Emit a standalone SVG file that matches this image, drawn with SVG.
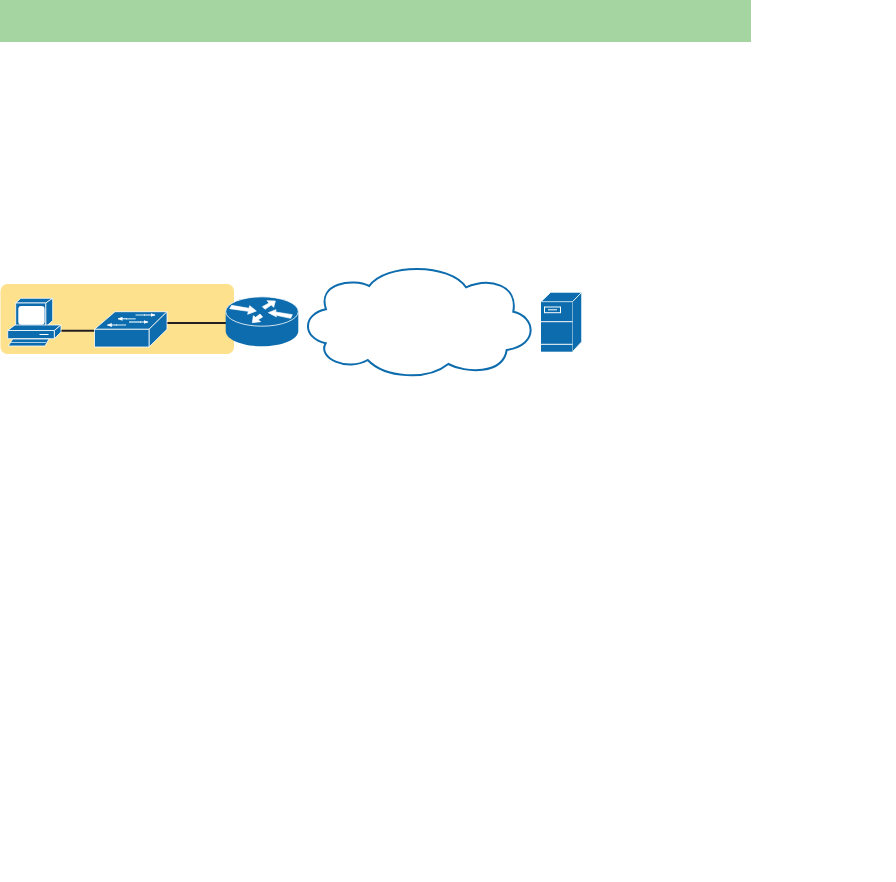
<svg xmlns="http://www.w3.org/2000/svg" width="896" height="882" viewBox="0 0 896 882">
<style>
.b{fill:#0d6cad;stroke:#fff;stroke-width:.8;stroke-linejoin:round}
.f{fill:#0d6cad}
.w{stroke:#fff;fill:none;stroke-width:1}
.lt{stroke:#a9cfe6;fill:none;stroke-width:1}
.link{stroke:#231f20;stroke-width:2;fill:none}
.ra{fill:#fff;stroke:#fff;stroke-width:2;stroke-linejoin:round}
.sa{stroke:#fff;stroke-width:1;fill:none;marker-end:url(#sh)}
.st{fill:#8fc0de}
</style>
<defs>
<marker id="sh" markerUnits="userSpaceOnUse" markerWidth="5" markerHeight="4" refX="4.5" refY="2" orient="auto"><path d="M0 0L5 2L0 4Z" fill="#fff"/></marker>
</defs>
<rect id="banner" x="0" y="0" width="751" height="42" fill="#a5d6a1"/>
<rect id="zone" x="0.5" y="284" width="233.5" height="70" rx="7" fill="#fde18d"/>
<g id="connectors">
<line class="link" x1="60" y1="330.7" x2="95" y2="330.7"/>
<line class="link" x1="166" y1="323" x2="227" y2="323"/>
</g>
<g id="pc">
<path class="b" d="M15.7 303L20.7 298.3H52.7L45.7 303Z"/>
<path class="b" d="M45.7 303L52.7 298.3V320.5L45.7 327Z"/>
<rect class="b" x="15.7" y="303" width="30" height="24"/>
<rect x="18.3" y="306" width="26.3" height="18.7" rx="3" fill="#fff"/>
<path class="b" d="M7.7 330.5L15 325H61L54.3 330.5Z"/>
<path class="b" d="M54.3 330.5L61 325V332L54.3 338.7Z"/>
<rect class="b" x="7.7" y="330.5" width="46.6" height="8.2"/>
<line class="w" x1="39.5" y1="334.5" x2="48.5" y2="334.5"/>
<path class="b" d="M8.3 346L12.7 339H49L45 346Z"/>
<line class="lt" x1="11" y1="342.5" x2="46" y2="342.5"/>
</g>
<g id="switch">
<path class="b" d="M94.5 329.3L115 311.7H167L149 329.3Z"/>
<path class="b" d="M149 329.3L167 311.7V329.3L149 347Z"/>
<rect class="b" x="94.5" y="329.3" width="54.5" height="17.7"/>
<path class="st" d="M135.5 314.2H145V315.8H135.5Z"/>
<path class="st" d="M126 318H135.7V319.6H126Z"/>
<path class="st" d="M129 321H141V323H129Z"/>
<path class="st" d="M116 324.2H126V325.8H116Z"/>
<line class="sa" x1="144" y1="315" x2="155" y2="315"/>
<line class="sa" x1="127" y1="318.8" x2="118" y2="318.8"/>
<line class="sa" x1="140" y1="322" x2="148" y2="322"/>
<line class="sa" x1="117" y1="325" x2="107.3" y2="325"/>
</g>
<g id="router">
<path class="f" d="M225.7 311.5V331C225.7 339.5 242 346.3 262 346.3S298.3 339.5 298.3 331V311.5Z"/>
<ellipse cx="262" cy="311.5" rx="36.3" ry="14.7" class="b"/>
<g transform="translate(225 292) scale(.3333)">
<polygon class="ra" points="20,40 72,49 74,41 94,57 68,67 70,58 14,50"/>
<polygon class="ra" points="112,44 132,33 126,26 151,27 146,46 139,39 120,52"/>
<polygon class="ra" points="130,62 153,53 152,60 202,68 197,79 150,69 155,75"/>
<polygon class="ra" points="82,92 85,71 92,76 105,66 113,75 99,83 107,89"/>
</g>
</g>
<g id="cloud">
<path fill="#fff" stroke="#0d6cad" stroke-width="2" d="M369.3 286C385 263 450 263 466 287.3C490 277 518 285 513.3 311.7C535 316 540 345 506.7 350C503 375 465 373 448.3 364C427 381 385 378 367.7 360C347 372 317 358 325.7 343.3C302 338 302 314 326 309.3C317 283 353 278 369.3 286Z"/>
</g>
<g id="server">
<path class="b" d="M541 301.7L550.7 292.3H581.7L572.5 301.7Z"/>
<path class="b" d="M572.5 301.7L581.7 292.3V341.7L572.5 351.7Z"/>
<rect class="f" x="541" y="301.7" width="31.5" height="50"/>
<line x1="541" y1="301.7" x2="572.5" y2="301.7" class="lt"/>
<line class="w" x1="541" y1="321.7" x2="572.5" y2="321.7"/>
<line class="w" x1="541" y1="344.3" x2="572.5" y2="344.3"/>
<rect class="w" x="544.5" y="307" width="16" height="5.7"/>
<line class="w" x1="548" y1="309.8" x2="557" y2="309.8"/>
</g>
</svg>
